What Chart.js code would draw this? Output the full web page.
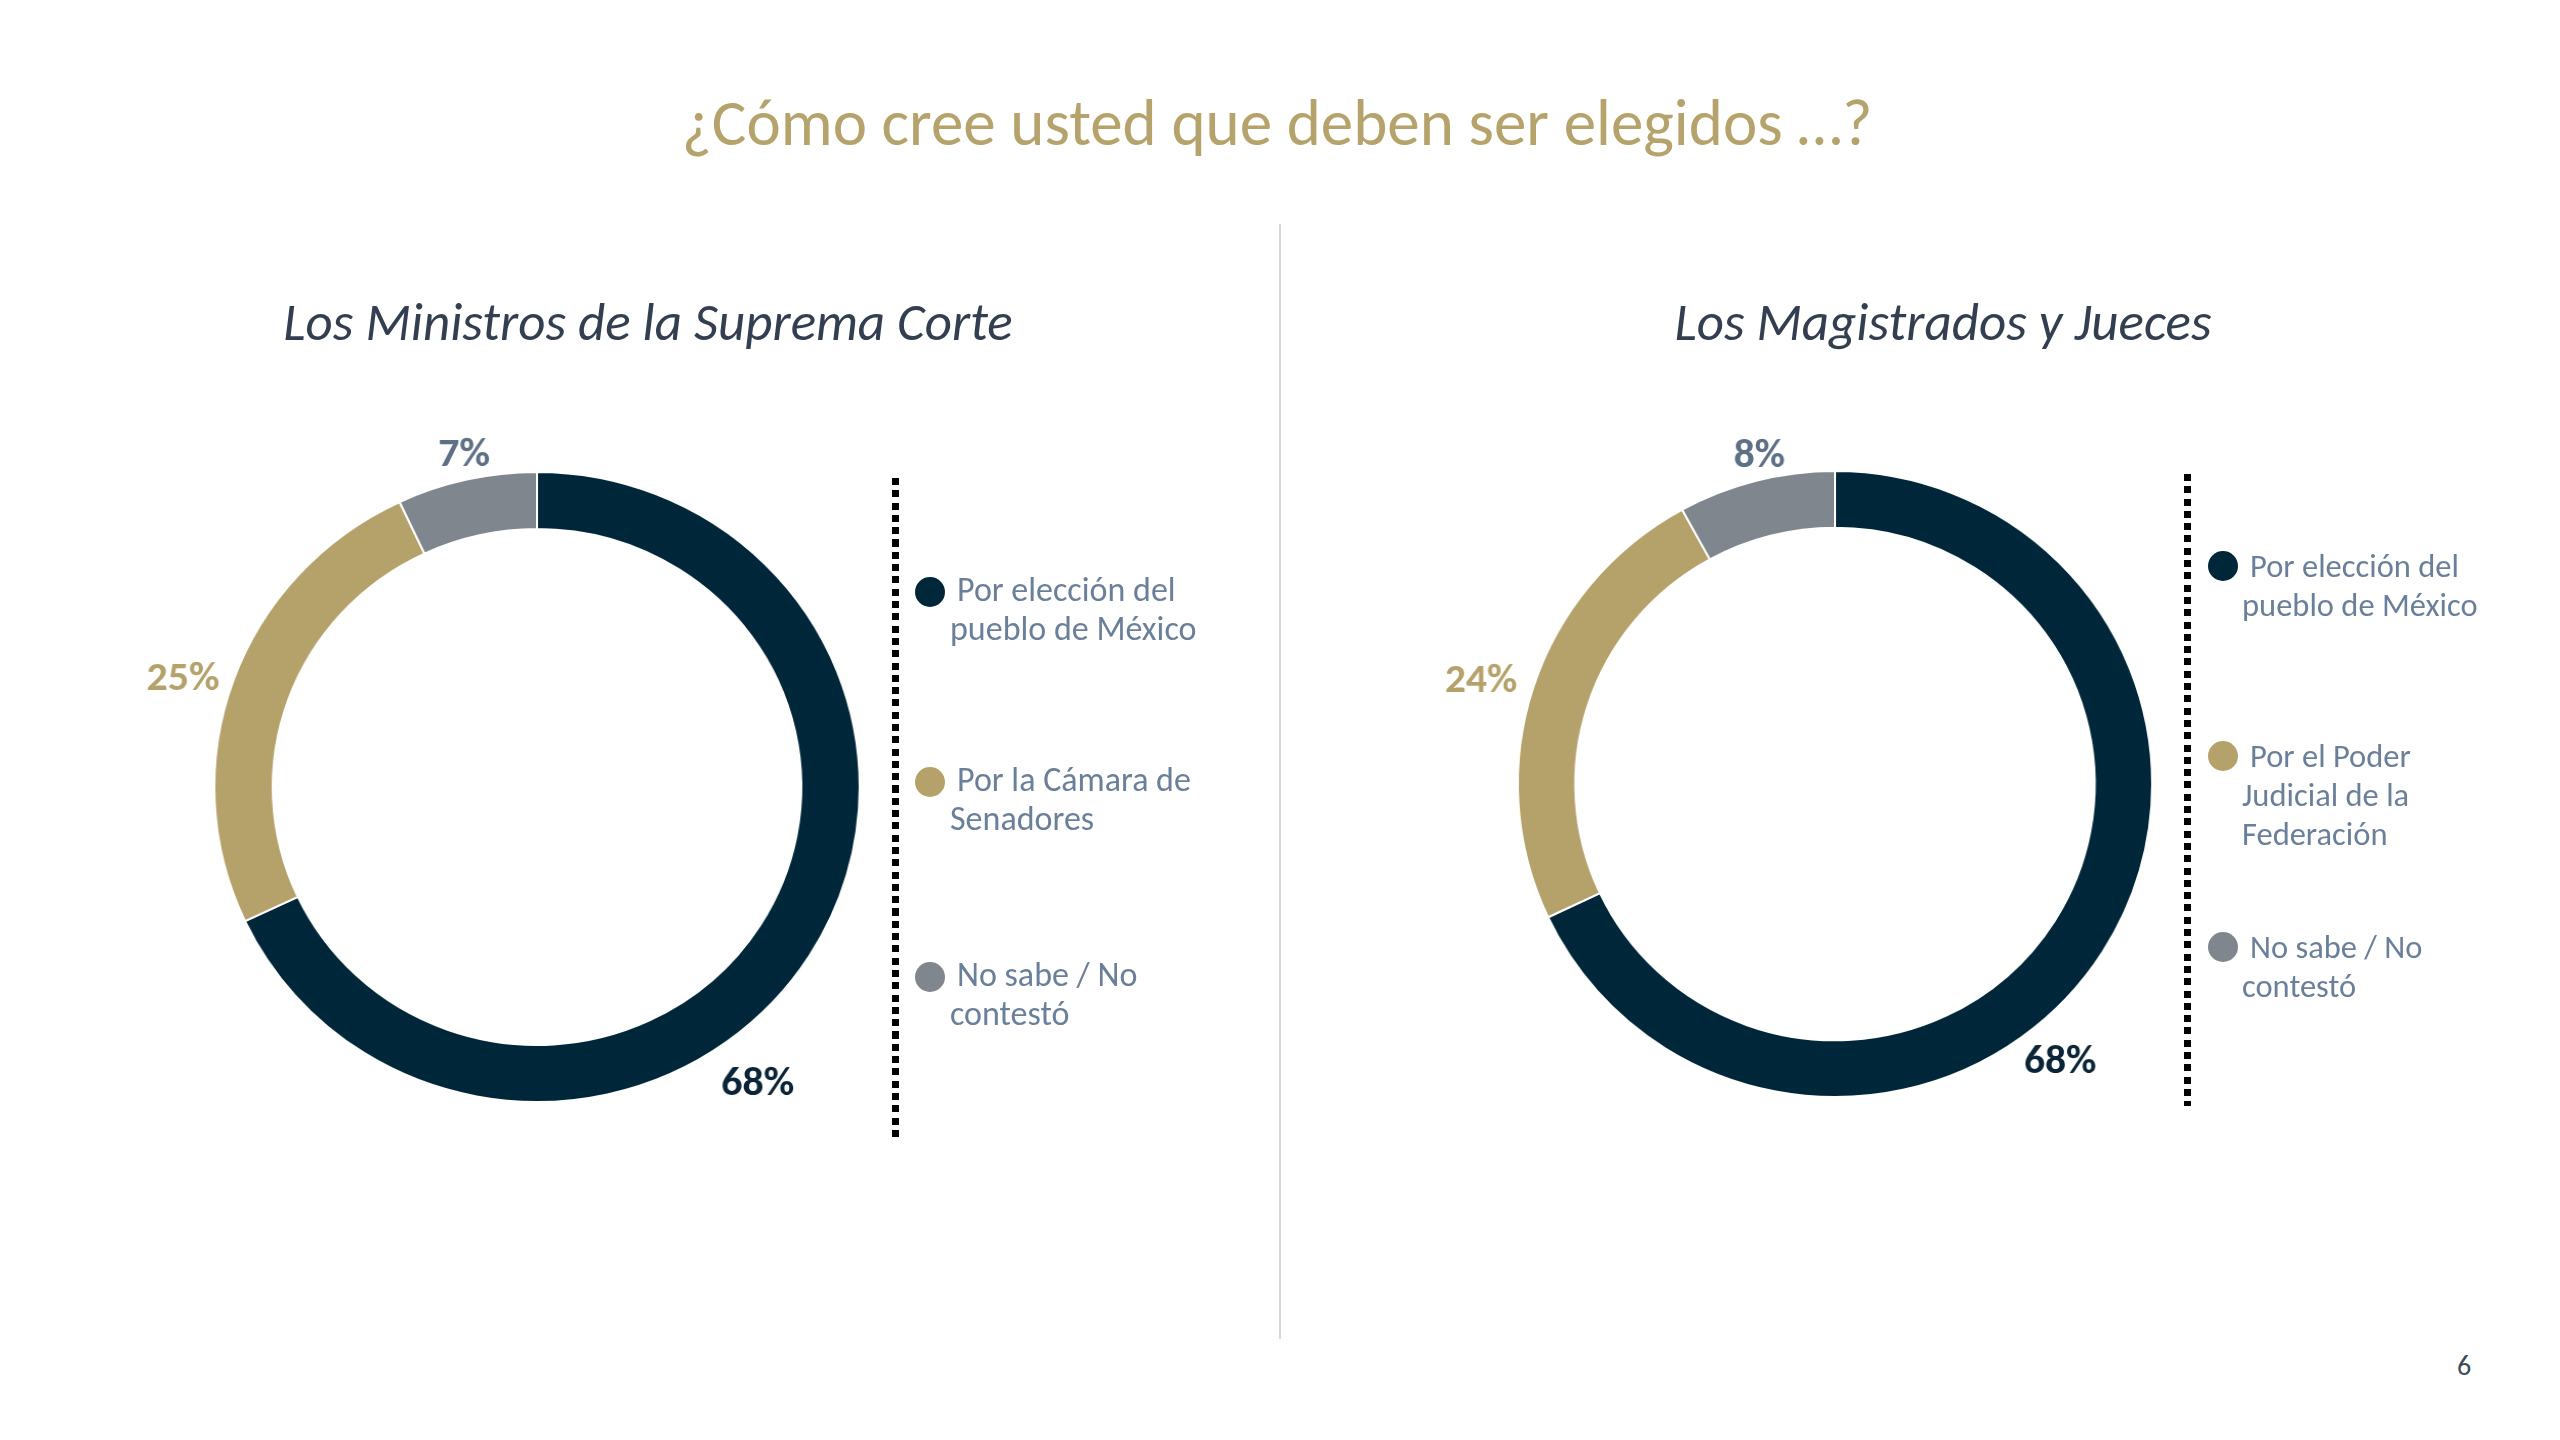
<!DOCTYPE html>
<html>
<head>
<meta charset="utf-8">
<script src="https://cdn.jsdelivr.net/npm/chart.js@4.4.1/dist/chart.umd.min.js"></script>
<style>
    html, body { margin: 0; padding: 0; background: #fff; }
    body { width: 2560px; height: 1440px; position: relative; overflow: hidden; font-family: Carlito, Lato, "Open Sans", sans-serif; }
    .abs { position: absolute; white-space: nowrap; }
    .c { transform: translate(-50%, -50%); }
    #title { left: 1277px; top: 122px; font-size: 65px; color: #B5A36B; }
    .sub { top: 322px; font-size: 53px; font-style: italic; color: #333F50; }
    #divider { left: 1279px; top: 224px; width: 2px; height: 1115px; background: #D9D9D9; }
    .dots { width: 7px; background: repeating-linear-gradient(to bottom, #000 0 7px, transparent 7px 12.3px); }
    .leg-dot { width: 30px; height: 30px; border-radius: 50%; transform: translate(-50%, -50%); }
    .leg-txt { color: #6A7F99; transform: translateY(-50%); }
    .wrap { position: absolute; height: 900px; }
    #pageNum { left: 2464px; top: 1365px; font-size: 28px; color: #3E4A59; }
</style>
</head>
<body>
<div id="title" class="abs c">¿Cómo cree usted que deben ser elegidos …?</div>
<div class="abs c sub" style="left:648px">Los Ministros de la Suprema Corte</div>
<div class="abs c sub" style="left:1943px">Los Magistrados y Jueces</div>
<div id="divider" class="abs"></div>

<div id="wrapLeft" class="wrap"><canvas id="chartLeft" width="900" height="900"></canvas></div>
<div id="wrapRight" class="wrap"><canvas id="chartRight" width="900" height="900"></canvas></div>

<div id="legendLeft"></div>
<div id="legendRight"></div>
<div id="pageNum" class="abs c">6</div>

<script>
// data
const categoriesLeft = [["Por elección del", "pueblo de México"], ["Por la Cámara de", "Senadores"], ["No sabe / No", "contestó"]];
const valuesLeft = [68, 25, 7];

const categoriesRight = [["Por elección del", "pueblo de México"], ["Por el Poder", "Judicial de la", "Federación"], ["No sabe / No", "contestó"]];
const valuesRight = [68, 24, 8];

const sliceColors = ["#00263A", "#B5A26A", "#7F868E"];
const labelColors = ["#0B2538", "#B5A26A", "#5E7086"];

// percent labels just outside the ring
const outsideLabels = {
    id: "outsideLabels",
    afterDatasetsDraw(chart, args, opts) {
        const ctx = chart.ctx;
        const meta = chart.getDatasetMeta(0);
        const data = chart.data.datasets[0].data;
        ctx.save();
        ctx.font = opts.font;
        ctx.textAlign = "center";
        ctx.textBaseline = "middle";
        meta.data.forEach((arc, i) => {
            const p = arc.getProps(["x", "y", "startAngle", "endAngle", "outerRadius"], true);
            const a = p.startAngle + (p.endAngle - p.startAngle) * opts.along[i];
            const r = p.outerRadius + opts.dist[i];
            ctx.fillStyle = opts.colors[i];
            ctx.fillText(data[i] + "%", p.x + Math.cos(a) * r, p.y + Math.sin(a) * r + opts.dy);
        });
        ctx.restore();
    }
};

// the slide's rings are a little wider than tall, so the canvas is stretched by sx
function createDonut(canvasId, wrapId, labels, values, opt) {
    const canvas = document.getElementById(canvasId);
    const w = 900 * opt.sx;
    canvas.style.width = w + "px";
    canvas.style.height = "900px";
    const wrap = document.getElementById(wrapId);
    wrap.style.left = (opt.cx - w / 2) + "px";
    wrap.style.top = (opt.cy - 450) + "px";
    wrap.style.width = w + "px";

    return new Chart(canvas.getContext("2d"), {
        type: "doughnut",
        data: {
            labels: labels,
            datasets: [{
                data: values,
                backgroundColor: sliceColors,
                borderColor: "#FFFFFF",
                borderWidth: 2,
                hoverOffset: 0
            }]
        },
        options: {
            responsive: false,
            animation: false,
            events: [],
            radius: opt.radius,
            cutout: "81.9%",
            plugins: {
                legend: { display: false },
                tooltip: { enabled: false },
                outsideLabels: {
                    font: "bold 41px Carlito, Lato, sans-serif",
                    colors: labelColors,
                    along: opt.along,
                    dist: opt.dist,
                    dy: 4
                }
            }
        },
        plugins: [outsideLabels]
    });
}

createDonut("chartLeft", "wrapLeft", categoriesLeft, valuesLeft, {
    cx: 537, cy: 787, sx: 1.025, radius: 315,
    along: [0.587, 0.478, 0.524], dist: [49, 48, 28]
});
createDonut("chartRight", "wrapRight", categoriesRight, valuesRight, {
    cx: 1835, cy: 784, sx: 1.013, radius: 313,
    along: [0.576, 0.487, 0.56], dist: [40, 52, 27]
});

// legends with dotted separator
function buildLegend(elId, labels, layout) {
    const el = document.getElementById(elId);
    let html = `<div class="abs dots" style="left:${layout.lineX}px; top:${layout.lineTop}px; height:${layout.lineBottom - layout.lineTop}px"></div>`;
    labels.forEach((lines, i) => {
        const y = layout.dotY[i];
        html += `<div class="abs leg-dot" style="left:${layout.dotX}px; top:${y}px; background:${sliceColors[i]}"></div>`;
        lines.forEach((line, j) => {
            const x = j === 0 ? layout.textX : layout.textX2;
            html += `<div class="abs leg-txt" style="font-size:${layout.fontSize}px; left:${x}px; top:${y + layout.textDy + j * 39}px">${line}</div>`;
        });
    });
    el.innerHTML = html;
}

buildLegend("legendLeft", categoriesLeft, {
    lineX: 892, lineTop: 478, lineBottom: 1138,
    dotX: 930, dotY: [592, 782, 977],
    textX: 957, textX2: 950, textDy: -3, fontSize: 34
});
buildLegend("legendRight", categoriesRight, {
    lineX: 2184, lineTop: 474, lineBottom: 1106,
    dotX: 2223, dotY: [566, 756, 947],
    textX: 2250, textX2: 2242, textDy: 0, fontSize: 32.5
});
</script>
</body>
</html>
